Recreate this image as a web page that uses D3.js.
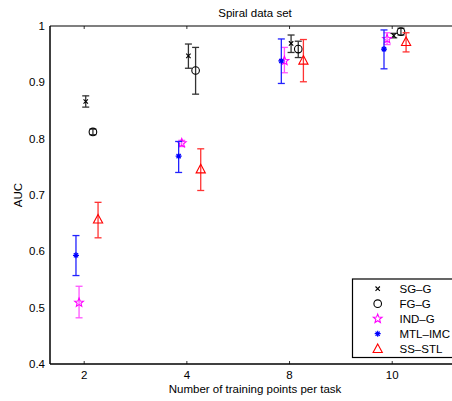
<!DOCTYPE html>
<html>
<head>
<meta charset="utf-8">
<script src="https://cdn.jsdelivr.net/npm/d3@7"></script>
<style>
  body { margin: 0; background: #fff; }
  svg { display: block; font-family: "Liberation Sans", Arial, sans-serif; }
</style>
</head>
<body>
<svg id="chart" width="452" height="401"></svg>
<script>
// x categories (training points per task)
const categories = ['2', '4', '8', '10']
const seriesNames = ['SG-G', 'FG-G', 'IND-G', 'MTL-IMC', 'SS-STL']

// mean AUC per series, one value per category
const sgG = [0.866, 0.947, 0.969, 0.983]
const fgG = [0.812, 0.921, 0.959, 0.990]
const indG = [0.509, 0.792, 0.938, 0.977]
const mtlImc = [0.593, 0.769, 0.938, 0.959]
const ssStl = [0.657, 0.746, 0.939, 0.972]

// error bar low / high
const sgGLo = [0.856, 0.925, 0.953, 0.979]
const sgGHi = [0.876, 0.968, 0.984, 0.987]
const fgGLo = [0.807, 0.879, 0.944, 0.984]
const fgGHi = [0.817, 0.962, 0.973, 0.996]
const indGLo = [0.482, 0.786, 0.917, 0.967]
const indGHi = [0.538, 0.797, 0.962, 0.988]
const mtlImcLo = [0.557, 0.740, 0.898, 0.924]
const mtlImcHi = [0.628, 0.795, 0.977, 0.993]
const ssStlLo = [0.624, 0.708, 0.901, 0.954]
const ssStlHi = [0.687, 0.782, 0.976, 0.988]

const yTicks = [0.4, 0.5, 0.6, 0.7, 0.8, 0.9, 1]

// styles / layout per series
const styles = {
  'SG-G': {color: '#000', bar: '#333', marker: 'x', dx: 0.015},
  'FG-G': {color: '#000', bar: '#333', marker: 'o', dx: 0.085},
  'IND-G': {color: '#ff00ff', bar: '#ff55ff', marker: 'star', dx: -0.05},
  'MTL-IMC': {color: '#0000ff', bar: '#2222ff', marker: 'asterisk', dx: -0.08},
  'SS-STL': {color: '#ff0000', bar: '#ff3333', marker: 'triangle', dx: 0.135},
}

const seriesVals = [sgG, fgG, indG, mtlImc, ssStl]
const seriesLo = [sgGLo, fgGLo, indGLo, mtlImcLo, ssStlLo]
const seriesHi = [sgGHi, fgGHi, indGHi, mtlImcHi, ssStlHi]

const margin = {left: 50, top: 26, right: 460.7, bottom: 364}
const svg = d3.select('#chart')

const x = d3.scaleLinear().domain([0.667, 4.667]).range([margin.left, margin.right])
const y = d3.scaleLinear().domain([0.4, 1]).range([margin.bottom, margin.top])

// 标记形状
function drawMarker(g, type, color) {
  if (type === 'x') {
    g.append('path').attr('d', 'M-2.2,-2.2L2.2,2.2M-2.2,2.2L2.2,-2.2')
      .attr('stroke', color).attr('stroke-width', 1.1).attr('fill', 'none')
  } else if (type === 'o') {
    g.append('circle').attr('r', 3.8).attr('stroke', color).attr('stroke-width', 1.1).attr('fill', 'none')
  } else if (type === 'star') {
    const pts = d3.range(10).map((i) => {
      const r = i % 2 === 0 ? 4.6 : 2
      const a = -Math.PI / 2 + (i * Math.PI) / 5
      return [r * Math.cos(a), r * Math.sin(a)]
    })
    g.append('path').attr('d', 'M' + pts.join('L') + 'Z')
      .attr('stroke', color).attr('stroke-width', 1.1).attr('fill', 'none')
  } else if (type === 'asterisk') {
    const d = d3.range(4).map((i) => {
      const a = (i * Math.PI) / 4
      const c = 3 * Math.cos(a), s = 3 * Math.sin(a)
      return `M${-c},${-s}L${c},${s}`
    }).join('')
    g.append('path').attr('d', d).attr('stroke', color).attr('stroke-width', 1.2).attr('fill', 'none')
  } else if (type === 'triangle') {
    g.append('path').attr('d', 'M0,-4.8L4.6,3.8L-4.6,3.8Z')
      .attr('stroke', color).attr('stroke-width', 1.1).attr('fill', 'none')
  }
}

// 坐标轴框
svg.append('line').attr('x1', margin.left).attr('x2', 452).attr('y1', margin.top).attr('y2', margin.top)
  .attr('stroke', '#000').attr('stroke-width', 1.2)
svg.append('line').attr('x1', margin.left).attr('x2', 452).attr('y1', margin.bottom).attr('y2', margin.bottom)
  .attr('stroke', '#000').attr('stroke-width', 1.5)
svg.append('line').attr('x1', margin.left).attr('x2', margin.left).attr('y1', margin.top).attr('y2', margin.bottom)
  .attr('stroke', '#000').attr('stroke-width', 1.5)

// x ticks (inward, top and bottom)
categories.forEach((c, i) => {
  const px = x(i + 1)
  svg.append('line').attr('x1', px).attr('x2', px).attr('y1', margin.bottom).attr('y2', margin.bottom - 3)
    .attr('stroke', '#000').attr('stroke-width', 0.8)
  svg.append('line').attr('x1', px).attr('x2', px).attr('y1', margin.top).attr('y2', margin.top + 3)
    .attr('stroke', '#000').attr('stroke-width', 0.8)
  svg.append('text').attr('x', px).attr('y', 379).attr('text-anchor', 'middle')
    .attr('font-size', 11.5).attr('fill', '#000').text(c)
})

yTicks.forEach((t) => {
  svg.append('text').attr('x', 45).attr('y', y(t) + 4).attr('text-anchor', 'end')
    .attr('font-size', 11.5).attr('fill', '#000').text(t === 1 ? '1' : t.toFixed(1))
})

// 标题与轴标签
svg.append('text').attr('x', 255).attr('y', 17).attr('text-anchor', 'middle')
  .attr('font-size', 11.5).attr('fill', '#000').text('Spiral data set')
svg.append('text').attr('x', 255).attr('y', 393).attr('text-anchor', 'middle')
  .attr('font-size', 11.5).attr('fill', '#000').text('Number of training points per task')
svg.append('text').attr('transform', `translate(22, ${(margin.top + margin.bottom) / 2}) rotate(-90)`)
  .attr('text-anchor', 'middle').attr('font-size', 11.5).attr('fill', '#000').text('AUC')

// 误差棒 + 标记
seriesNames.forEach((name, si) => {
  const st = styles[name]
  seriesVals[si].forEach((v, i) => {
    const px = x(i + 1 + st.dx)
    const g = svg.append('g')
    const lo = y(seriesLo[si][i]), hi = y(seriesHi[si][i])
    g.append('line').attr('x1', px).attr('x2', px).attr('y1', lo).attr('y2', hi)
      .attr('stroke', st.bar).attr('stroke-width', 1.3)
    ;[lo, hi].forEach((yy) => {
      g.append('line').attr('x1', px - 3.5).attr('x2', px + 3.5).attr('y1', yy).attr('y2', yy)
        .attr('stroke', st.bar).attr('stroke-width', 1.3)
    })
    const m = svg.append('g').attr('transform', `translate(${px},${y(v)})`)
    drawMarker(m, st.marker, st.color)
  })
})

// 图例
const legend = svg.append('g')
legend.append('rect').attr('x', 352.5).attr('y', 279).attr('width', 120).attr('height', 78.5)
  .attr('fill', '#fff').attr('stroke', '#000').attr('stroke-width', 1.2)
seriesNames.forEach((name, i) => {
  const yy = 288.7 + i * 15
  const m = legend.append('g').attr('transform', `translate(377.7,${yy})`)
  drawMarker(m, styles[name].marker, styles[name].color)
  legend.append('text').attr('x', 399.5).attr('y', yy + 4).attr('font-size', 11.5)
    .attr('fill', '#000').text(name.replace('-', '\u2013'))
})
</script>
</body>
</html>
